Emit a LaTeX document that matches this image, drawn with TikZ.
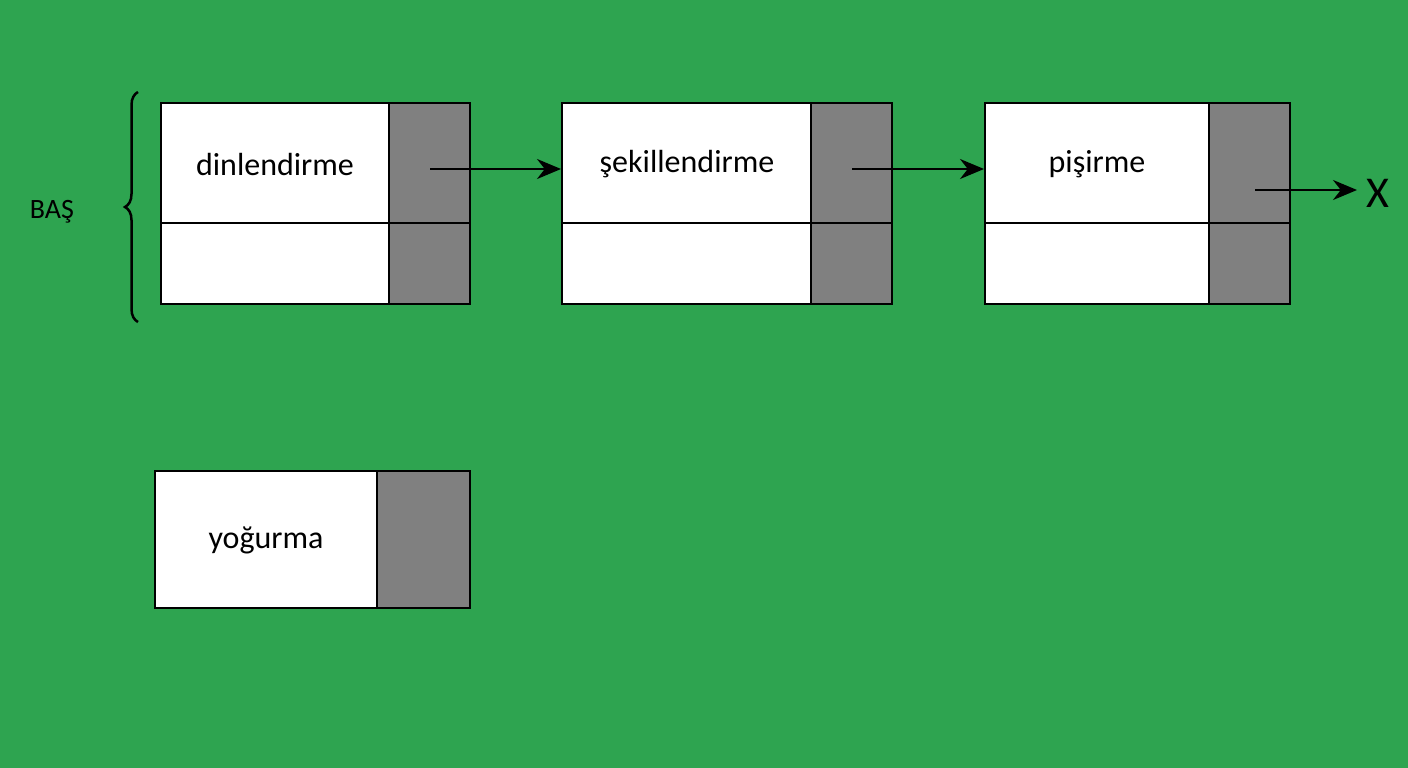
\documentclass[tikz,border=0pt]{standalone}
\usepackage{fontspec}
\setmainfont{Carlito}
\usetikzlibrary{decorations.pathreplacing,arrows.meta}
\definecolor{bg}{RGB}{46,164,80}
\definecolor{cellgray}{RGB}{128,128,128}
\begin{document}
\begin{tikzpicture}[x=1pt,y=-1pt,
  cell/.style={draw=black,line width=2.5pt,fill=white},
  ptr/.style={draw=black,line width=2.5pt,fill=cellgray},
  lbl/.style={font=\fontsize{32}{36}\selectfont,text=black},
  arr/.style={-{Stealth[length=24pt,width=20pt]},line width=2.5pt}]
\fill[bg] (0,0) rectangle (1408,768);
\useasboundingbox (0,0) rectangle (1408,768);
% box1
\draw[cell] (161,103) rectangle (389,223);
\draw[cell] (161,223) rectangle (389,304);
\draw[ptr] (389,103) rectangle (470,223);
\draw[ptr] (389,223) rectangle (470,304);
\node[lbl] (n1) at (275,164) {dinlendirme};
\coordinate (p1) at (430,169);
% box2
\draw[cell] (562,103) rectangle (811,223);
\draw[cell] (562,223) rectangle (811,304);
\draw[ptr] (811,103) rectangle (892,223);
\draw[ptr] (811,223) rectangle (892,304);
\node[lbl] (n2) at (687,164) {şekillendirme};
\coordinate (p2) at (852,169);
\coordinate (in2) at (561,169);
% box3
\draw[cell] (985,103) rectangle (1209,223);
\draw[cell] (985,223) rectangle (1209,304);
\draw[ptr] (1209,103) rectangle (1290,223);
\draw[ptr] (1209,223) rectangle (1290,304);
\node[lbl] (n3) at (1097,164) {pişirme};
\coordinate (p3) at (1255,190);
\coordinate (in3) at (984,169);
% X
\node[font=\fontsize{44}{48}\selectfont] (x) at (1378,193) {X};
\coordinate (inx) at (1357,190);
\draw[arr] (p1) -- (in2);
\draw[arr] (p2) -- (in3);
\draw[arr] (p3) -- (inx);
% yogurma
\draw[cell] (155,471) rectangle (377,608);
\draw[ptr] (377,471) rectangle (470,608);
\node[lbl] (y) at (266,540) {yoğurma};
% brace
\draw[line width=2.5pt,decorate,decoration={brace,amplitude=13pt}] (138,322) -- (138,92);
\node[font=\fontsize{28}{32}\selectfont] (bas) at (52,212) {BAŞ};
\end{tikzpicture}
\end{document}
